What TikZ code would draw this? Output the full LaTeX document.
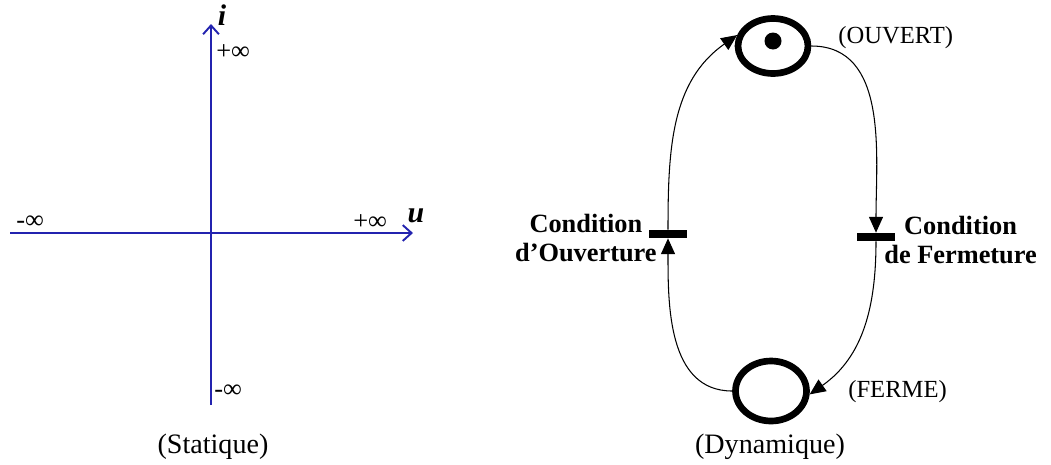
\documentclass[tikz,border=0pt]{standalone}
\usepackage{fontspec}
\setmainfont{Liberation Serif}
\usetikzlibrary{arrows.meta,shapes.geometric}
\definecolor{axeblue}{RGB}{35,35,175}
\tikzset{
  axe/.style={axeblue,line width=1.1pt,-{Straight Barb[length=5pt,width=9pt,line width=1.1pt]}},
  lbl/.style={font=\fontsize{15}{17}\selectfont,inner sep=0pt},
  place/.style={ellipse,draw,line width=3.8pt,inner sep=0pt},
  trans/.style={rectangle,fill,minimum width=0.76cm,minimum height=0.16cm,inner sep=0pt},
  arc/.style={line width=0.6pt,-{Triangle[length=9pt,width=8pt]}},
  cond/.style={font=\bfseries\fontsize{15}{17}\selectfont,align=center,inner sep=0pt}
}
\begin{document}
\begin{tikzpicture}[x=0.02cm,y=-0.02cm]
  \useasboundingbox (0,0) rectangle (1051,464);
  % statique
  \draw[axe] (10,233) -- (413,233);
  \draw[axe] (211,405) -- (211,24);
  \node[lbl,font=\bfseries\itshape\fontsize{17}{19}\selectfont] at (222,15) {i};
  \node[lbl,font=\bfseries\itshape\fontsize{17}{19}\selectfont] at (416,216) {u};
  \node[lbl,anchor=west] at (216,52) {+∞};
  \node[lbl,anchor=west] at (16,222) {-∞};
  \node[lbl,anchor=west] at (353,222) {+∞};
  \node[lbl,anchor=west] at (214,391) {-∞};
  \node[lbl,font=\fontsize{16}{18}\selectfont] at (213,447) {(Statique)};
  % dynamique
  \node[place,minimum width=1.4cm,minimum height=1.1cm] (ouvert) at (773,46) {};
  \node[circle,fill,minimum size=0.34cm,inner sep=0pt] (jeton) at (773,41) {};
  \node[place,minimum width=1.42cm,minimum height=1.2cm] (ferme) at (771,391) {};
  \node[trans] (tgauche) at (668,234) {};
  \node[trans] (tdroite) at (876,237) {};
  \draw[arc] (ferme.west) to[out=180,in=-90] (tgauche.south);
  \draw[arc] (tgauche.north) to[out=90,in=215] (ouvert.163);
  \draw[arc] (ouvert.east) to[out=0,in=90] (tdroite.north);
  \draw[arc] (tdroite.south) to[out=-90,in=35] (ferme.-5);
  \node[lbl,font=\fontsize{14}{16}\selectfont,anchor=west] at (838,38) {(OUVERT)};
  \node[lbl,font=\fontsize{14}{16}\selectfont,anchor=west] at (848,392) {(FERME)};
  \node[lbl,font=\fontsize{16}{18}\selectfont] at (770,447) {(Dynamique)};
  \node[cond,anchor=east] at (657,238) {Condition\\d’Ouverture};
  \node[cond,anchor=west] at (884,240) {Condition\\de Fermeture};
\end{tikzpicture}
\end{document}
